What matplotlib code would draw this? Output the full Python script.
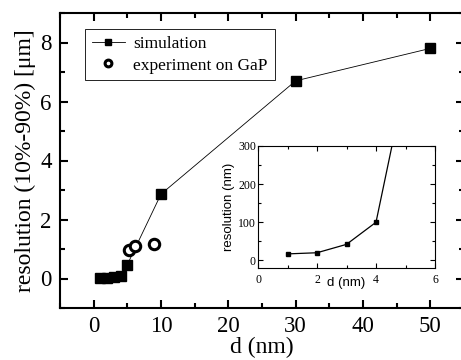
import numpy as np
import matplotlib.pyplot as plt
from matplotlib.ticker import MultipleLocator

# data
d_sim = [1, 2, 3, 4, 5, 10, 30, 50]
res_sim = [0.017, 0.020, 0.042, 0.100, 0.47, 2.86, 6.70, 7.80]  # um

d_exp = [5.2, 6.1, 9.0]
res_exp = [0.98, 1.10, 1.18]  # um

d_in = [1, 2, 3, 4, 5]
res_in = [17, 20, 42, 100, 470]  # nm

serif = ['Liberation Serif', 'DejaVu Serif']
sans = ['Liberation Sans', 'DejaVu Sans']

fig = plt.figure(figsize=(4.61, 3.6), dpi=100)
ax = fig.add_axes([60 / 461, 1 - 308 / 360, 404 / 461, 295 / 360])

ax.plot(d_sim, res_sim, '-', color='black', lw=0.6, marker='s', ms=6.5,
        label='simulation')
ax.plot(d_exp, res_exp, 'o', mfc='white', mec='black', mew=2.2, ms=7.5,
        label='experiment on GaP')

ax.set_xlim(-5, 55)
ax.set_ylim(-1, 9)
ax.xaxis.set_major_locator(MultipleLocator(10))
ax.xaxis.set_minor_locator(MultipleLocator(5))
ax.yaxis.set_major_locator(MultipleLocator(2))
ax.yaxis.set_minor_locator(MultipleLocator(1))
ax.tick_params(which='both', direction='in', top=True, right=True, width=1.5)
ax.tick_params(which='major', length=6, labelsize=16.5, pad=6)
ax.tick_params(which='minor', length=3.5)
for lab in ax.get_xticklabels() + ax.get_yticklabels():
    lab.set_family(serif)
for s in ax.spines.values():
    s.set_linewidth(1.5)

ax.set_xlabel('d (nm)', family=serif, fontsize=17, labelpad=0)
ax.set_ylabel('resolution (10%-90%) [\u03bcm]', family=serif, fontsize=17,
              labelpad=3)

leg = ax.legend(loc='upper left', bbox_to_anchor=(0.04, 0.975),
                prop={'family': serif, 'size': 12.5}, fancybox=False,
                edgecolor='black', framealpha=1, handlelength=1.9,
                markerscale=0.65, borderpad=0.4, labelspacing=0.3,
                handletextpad=0.5)
leg.get_frame().set_linewidth(0.6)

# inset
axi = fig.add_axes([258 / 461, 1 - 268 / 360, 177 / 461, 122 / 360])
axi.plot(d_in, res_in, '-', color='black', lw=0.9, marker='s', ms=3)
axi.set_xlim(0, 6)
axi.set_ylim(-20, 300)
axi.xaxis.set_major_locator(MultipleLocator(2))
axi.xaxis.set_minor_locator(MultipleLocator(1))
axi.yaxis.set_major_locator(MultipleLocator(100))
axi.yaxis.set_minor_locator(MultipleLocator(50))
axi.tick_params(which='both', direction='in', top=True, right=True, width=0.8)
axi.tick_params(which='major', length=3.5, labelsize=8.5)
axi.tick_params(which='minor', length=2)
axi.tick_params(axis='y', pad=1.5)
axi.tick_params(axis='x', pad=4)
for lab in axi.get_xticklabels() + axi.get_yticklabels():
    lab.set_family(serif)
for s in axi.spines.values():
    s.set_linewidth(0.8)
axi.set_xlabel('d (nm)', family=sans, fontsize=9.5, labelpad=-6)
axi.set_ylabel('resolution (nm)', family=sans, fontsize=9.5, labelpad=2)

fig.savefig('out.png', dpi=100)
